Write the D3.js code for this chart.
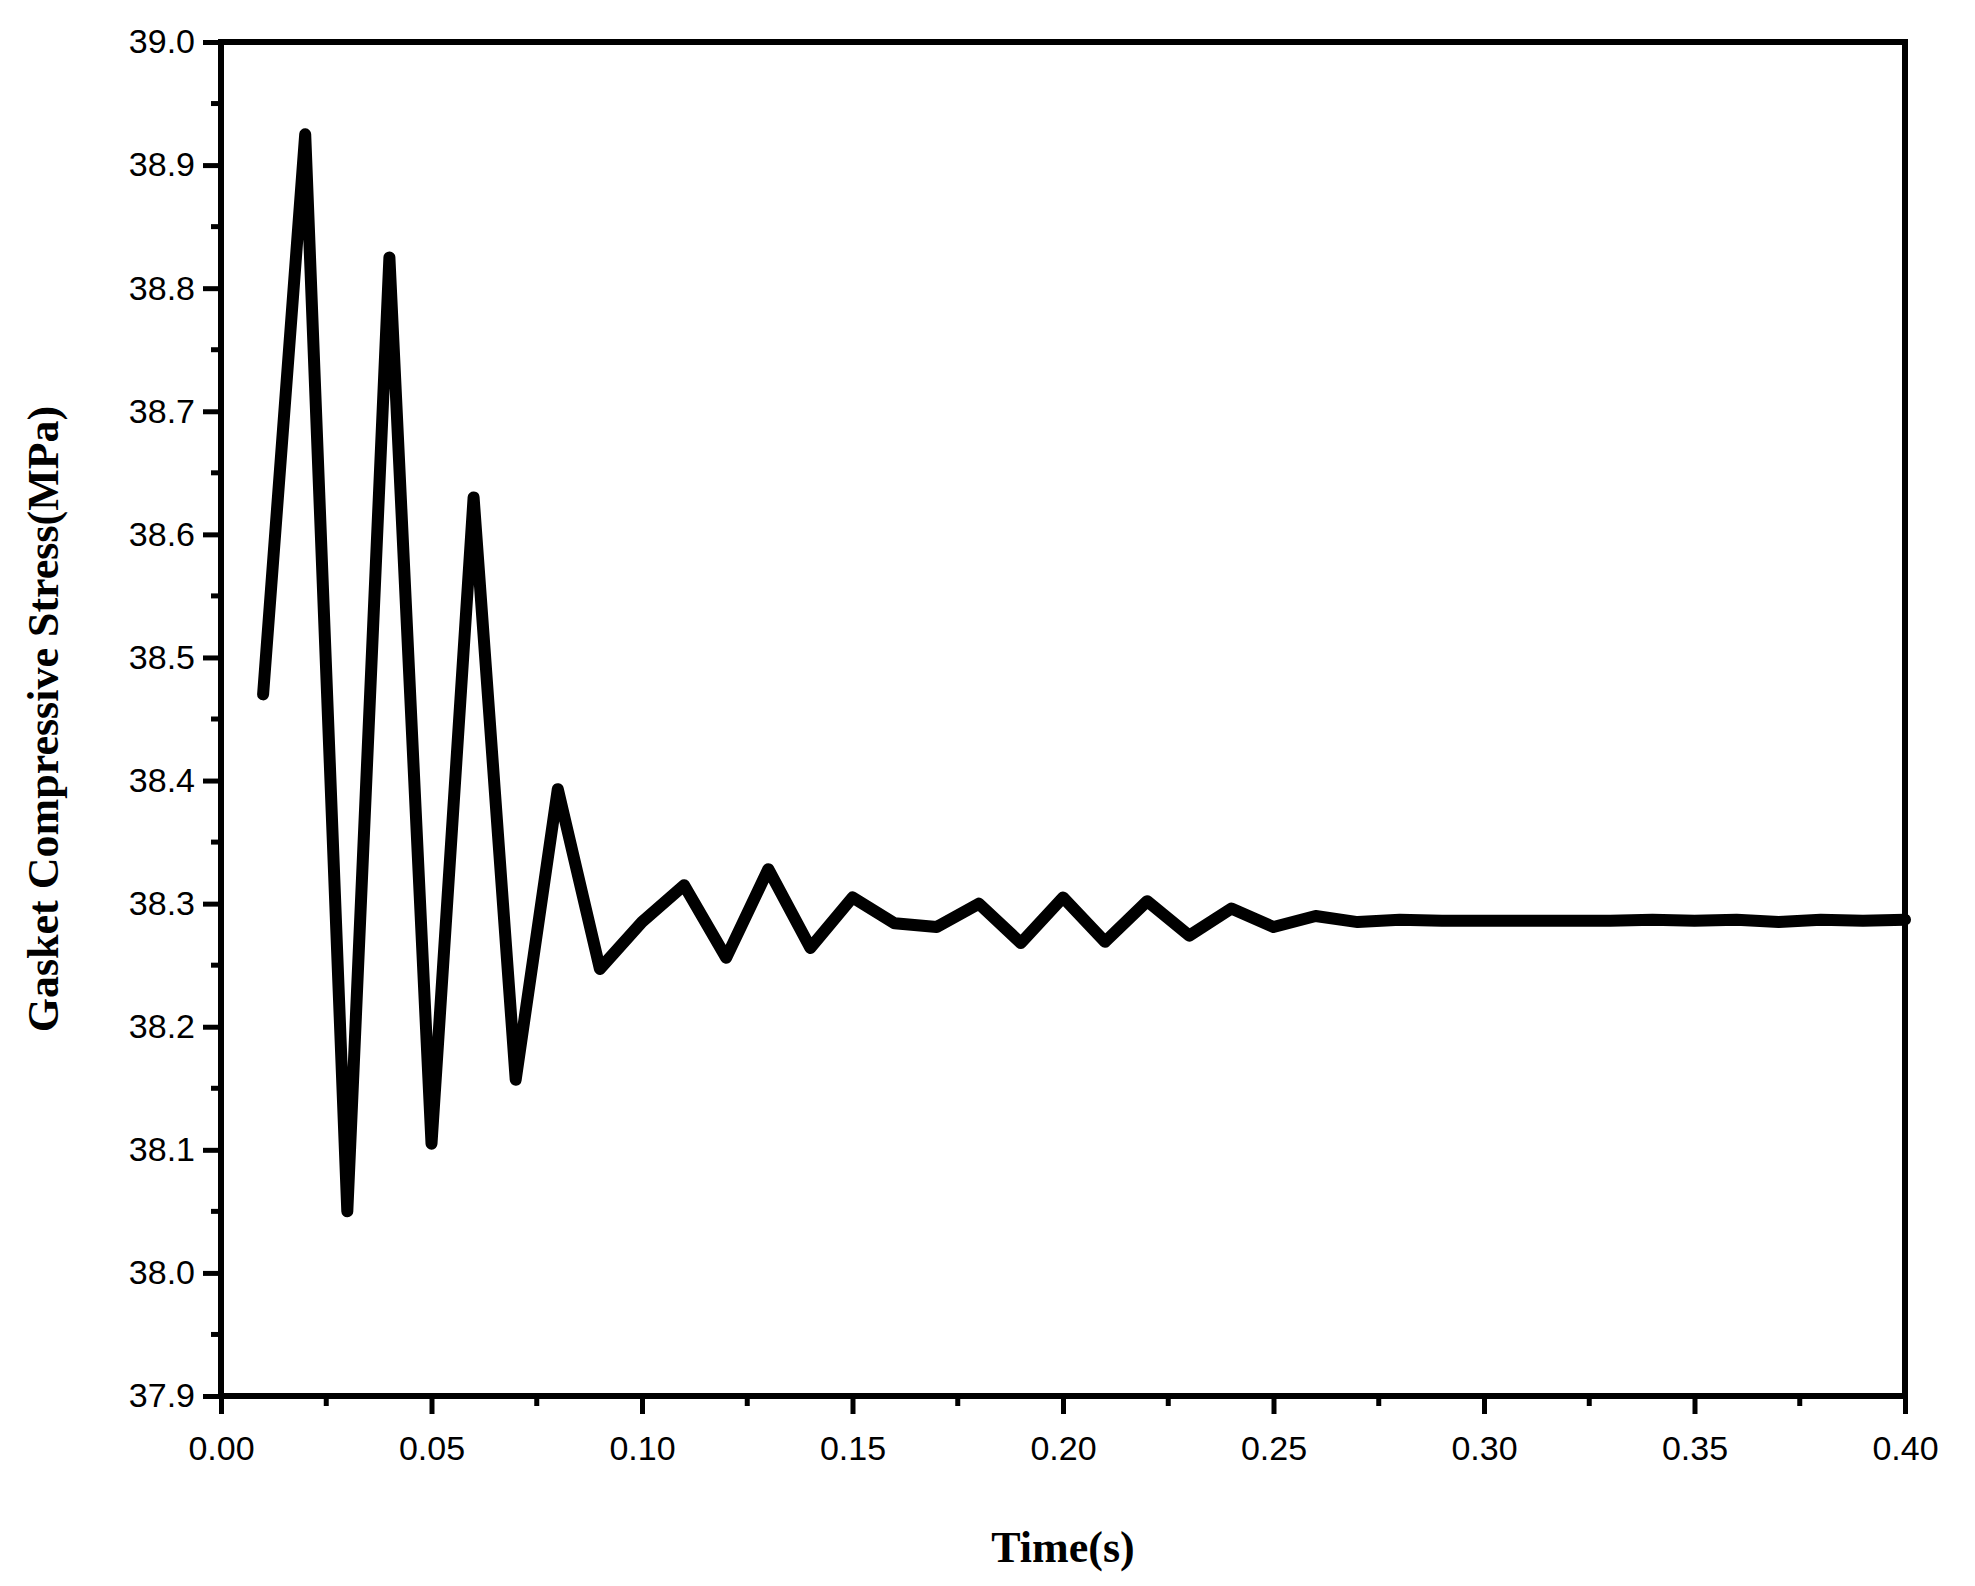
<!DOCTYPE html>
<html><head><meta charset="utf-8">
<script src="https://cdn.jsdelivr.net/npm/d3@7"></script>
<style>body{margin:0;background:#fff}</style>
</head><body>
<svg id="chart" width="1975" height="1586"></svg>
<script>
const times = [0.01,0.02,0.03,0.04,0.05,0.06,0.07,0.08,0.09,0.10,0.11,0.12,0.13,0.14,0.15,0.16,0.17,0.18,0.19,0.20,
  0.21,0.22,0.23,0.24,0.25,0.26,0.27,0.28,0.29,0.30,0.31,0.32,0.33,0.34,0.35,0.36,0.37,0.38,0.39,0.40];
const stress = [38.47,38.925,38.05,38.825,38.105,38.63,38.157,38.393,38.247,38.285,38.315,38.256,38.328,38.264,38.305,38.284,38.281,38.300,38.268,38.305,
  38.269,38.302,38.274,38.296,38.281,38.290,38.285,38.287,38.286,38.286,38.286,38.286,38.286,38.287,38.286,38.287,38.285,38.287,38.286,38.287];
const xTicks = [0,0.05,0.10,0.15,0.20,0.25,0.30,0.35,0.40];
const yTicks = [37.9,38.0,38.1,38.2,38.3,38.4,38.5,38.6,38.7,38.8,38.9,39.0];

const m = {left: 221, right: 1905, top: 42, bottom: 1396};
const svg = d3.select('#chart');
const x = d3.scaleLinear().domain([0, 0.4]).range([m.left, m.right]);
const y = d3.scaleLinear().domain([37.9, 39.0]).range([m.bottom, m.top]);

const font = 'Arial, "Liberation Sans", sans-serif';

// minor ticks
const xMinor = d3.range(0.025, 0.4, 0.05);
const yMinor = d3.range(37.95, 39.0, 0.1);
svg.append('g').selectAll('line').data(xMinor).enter().append('line')
  .attr('x1', d => x(d)).attr('x2', d => x(d))
  .attr('y1', m.bottom).attr('y2', m.bottom + 10)
  .attr('stroke', '#000').attr('stroke-width', 5);
svg.append('g').selectAll('line').data(yMinor).enter().append('line')
  .attr('y1', d => y(d)).attr('y2', d => y(d))
  .attr('x1', m.left).attr('x2', m.left - 10)
  .attr('stroke', '#000').attr('stroke-width', 5);

const xAxis = svg.append('g').attr('transform', `translate(0,${m.bottom})`)
  .call(d3.axisBottom(x).tickValues(xTicks).tickFormat(d3.format('.2f')).tickSize(18).tickPadding(22).tickSizeOuter(0));
const yAxis = svg.append('g').attr('transform', `translate(${m.left},0)`)
  .call(d3.axisLeft(y).tickValues(yTicks).tickFormat(d3.format('.1f')).tickSize(18).tickPadding(8).tickSizeOuter(0));
[xAxis, yAxis].forEach(a => {
  a.select('.domain').remove();
  a.selectAll('line').attr('stroke-width', 5);
  a.selectAll('text').attr('font-family', font).attr('font-size', 34).attr('fill', '#000');
});

// frame
svg.append('rect').attr('x', m.left).attr('y', m.top)
  .attr('width', m.right - m.left).attr('height', m.bottom - m.top)
  .attr('fill', 'none').attr('stroke', '#000').attr('stroke-width', 6);

const line = d3.line().x((d, i) => x(times[i])).y(d => y(d));
svg.append('path').datum(stress).attr('d', line)
  .attr('fill', 'none').attr('stroke', '#000').attr('stroke-width', 12)
  .attr('stroke-linejoin', 'round').attr('stroke-linecap', 'round');

svg.append('text').attr('x', (m.left + m.right) / 2).attr('y', 1562)
  .attr('text-anchor', 'middle').attr('font-family', '"Liberation Serif", serif')
  .attr('font-weight', 'bold').attr('font-size', 44).text('Time(s)');
svg.append('text').attr('transform', `translate(58,${(m.top + m.bottom) / 2}) rotate(-90)`)
  .attr('text-anchor', 'middle').attr('font-family', '"Liberation Serif", serif')
  .attr('font-weight', 'bold').attr('font-size', 44).text('Gasket Compressive Stress(MPa)');
</script>
</body></html>
